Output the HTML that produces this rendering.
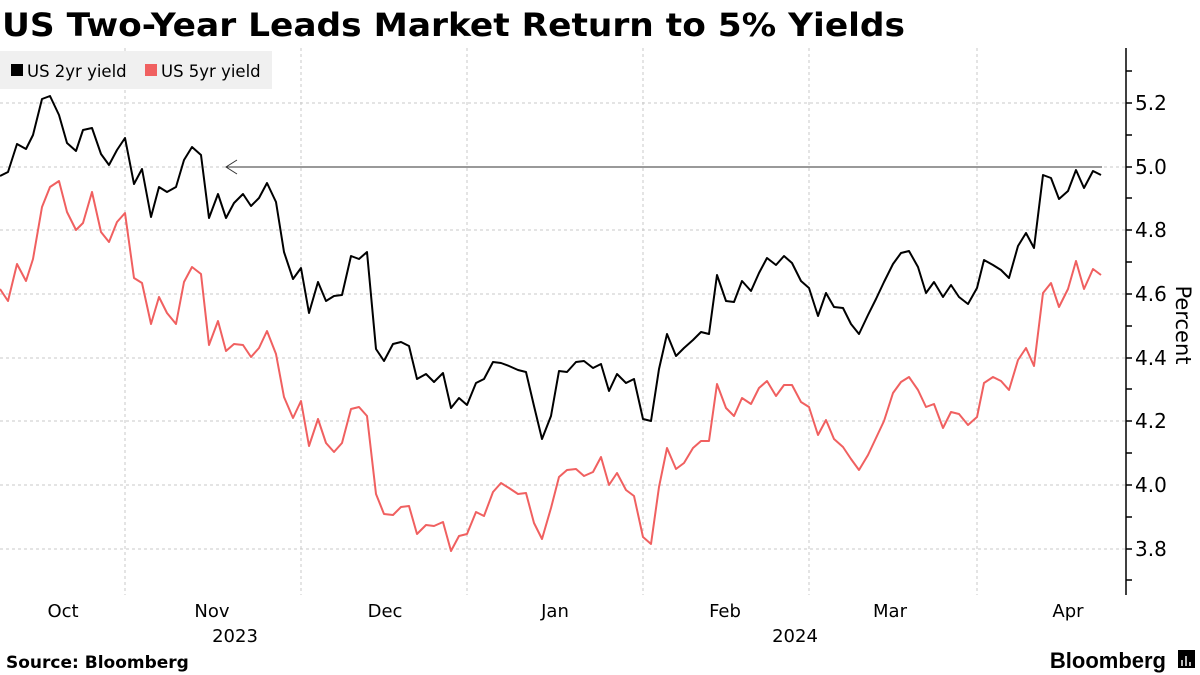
<!DOCTYPE html>
<html><head><meta charset="utf-8"><style>
html,body{margin:0;padding:0;background:#fff;}
svg{display:block;font-family:"DejaVu Sans","Liberation Sans",sans-serif;}
</style></head><body>
<svg width="1200" height="675" viewBox="0 0 1200 675" xmlns="http://www.w3.org/2000/svg">
<text x="2" y="36" font-size="32" font-weight="bold" fill="#000" textLength="903" lengthAdjust="spacingAndGlyphs">US Two-Year Leads Market Return to 5% Yields</text>
<g stroke="#c8c8c8" stroke-width="1" stroke-dasharray="3,3">
<line x1="0" x2="1126" y1="103" y2="103"/><line x1="0" x2="1126" y1="167" y2="167"/><line x1="0" x2="1126" y1="230" y2="230"/><line x1="0" x2="1126" y1="294" y2="294"/><line x1="0" x2="1126" y1="358" y2="358"/><line x1="0" x2="1126" y1="421" y2="421"/><line x1="0" x2="1126" y1="485" y2="485"/><line x1="0" x2="1126" y1="549" y2="549"/>
<line x1="125" x2="125" y1="48" y2="595"/><line x1="301" x2="301" y1="48" y2="595"/><line x1="467" x2="467" y1="48" y2="595"/><line x1="643" x2="643" y1="48" y2="595"/><line x1="809" x2="809" y1="48" y2="595"/><line x1="977" x2="977" y1="48" y2="595"/>
</g>
<rect x="0" y="51" width="272" height="38" fill="#f0f0f0"/>
<rect x="11" y="64" width="12" height="12" fill="#000"/>
<text x="27" y="77" font-size="16.5" fill="#000">US 2yr yield</text>
<rect x="145" y="64" width="12" height="12" fill="#f06060"/>
<text x="161" y="77" font-size="16.5" fill="#000">US 5yr yield</text>
<line x1="226" y1="167" x2="1102" y2="167" stroke="#333" stroke-width="1"/>
<polyline points="237,160 226,167 237,174" fill="none" stroke="#333" stroke-width="1"/>
<polyline fill="none" stroke="#f06060" stroke-width="2" stroke-linejoin="round" points="0,289 8,301 17,264 26,281 33,259 42,207 50,187 59,181 67,212 76,230 83,223 92,192 101,232 109,242 117,222 125,213 134,278 142,283 151,324 159,297 167,313 176,324 184,282 192,267 201,274 209,345 218,321 226,351 234,344 243,345 251,357 259,348 267,331 276,354 284,397 293,418 301,401 309,446 318,419 326,443 334,452 342,443 351,409 359,407 367,416 376,494 384,514 393,515 401,507 409,506 417,534 426,525 434,526 443,522 451,551 459,536 467,534 476,512 484,516 493,492 501,483 509,488 518,494 526,493 534,523 542,539 551,508 559,477 567,470 576,469 584,476 593,472 601,457 609,485 617,473 626,490 634,496 643,537 651,544 659,487 667,448 676,469 684,463 693,448 701,441 709,441 717,384 726,408 734,416 742,398 751,404 759,388 767,381 776,396 784,385 792,385 801,402 809,407 818,435 826,420 834,439 843,447 851,459 859,470 868,455 876,438 884,421 893,393 901,382 909,377 918,390 926,407 934,404 943,428 951,412 959,414 968,425 977,417 984,383 993,377 1001,381 1009,390 1018,360 1026,348 1034,366 1043,293 1051,283 1059,307 1068,289 1076,261 1084,289 1093,269 1101,275"/>
<polyline fill="none" stroke="#000" stroke-width="2" stroke-linejoin="round" points="0,176 8,172 17,144 26,149 33,135 42,99 50,96 59,115 67,143 76,151 83,130 92,128 101,154 109,165 117,150 125,138 134,184 142,169 151,217 159,187 167,192 176,187 184,160 192,147 201,155 209,218 218,194 226,218 234,203 243,194 251,206 259,198 267,183 276,202 284,252 293,279 301,268 309,313 318,282 326,301 334,296 342,295 351,256 359,259 367,252 376,349 384,361 393,344 401,342 409,346 417,379 426,374 434,382 443,373 451,408 459,398 467,405 476,383 484,379 493,362 501,363 509,366 518,370 526,372 534,406 542,439 551,416 559,371 567,372 576,362 584,361 593,368 601,364 609,391 617,374 626,383 634,379 643,419 651,421 659,369 667,334 676,356 684,348 693,340 701,332 709,334 717,275 726,301 734,302 742,281 751,291 759,273 767,258 776,265 784,256 792,263 801,281 809,288 818,316 826,293 834,307 843,308 851,324 859,334 868,315 876,299 884,282 893,264 901,253 909,251 918,267 926,293 934,282 943,297 951,285 959,297 968,304 977,288 984,260 993,265 1001,270 1009,278 1018,246 1026,233 1034,248 1043,175 1051,178 1059,199 1068,191 1076,170 1084,188 1093,171 1101,175"/>
<line x1="1126" y1="48" x2="1126" y2="595" stroke="#000" stroke-width="1.5"/>
<g stroke="#000" stroke-width="1.5">
<line x1="1126" x2="1132" y1="71" y2="71"/><line x1="1126" x2="1132" y1="103" y2="103"/><line x1="1126" x2="1132" y1="135" y2="135"/><line x1="1126" x2="1132" y1="167" y2="167"/><line x1="1126" x2="1132" y1="198" y2="198"/><line x1="1126" x2="1132" y1="230" y2="230"/><line x1="1126" x2="1132" y1="262" y2="262"/><line x1="1126" x2="1132" y1="294" y2="294"/><line x1="1126" x2="1132" y1="326" y2="326"/><line x1="1126" x2="1132" y1="358" y2="358"/><line x1="1126" x2="1132" y1="389" y2="389"/><line x1="1126" x2="1132" y1="421" y2="421"/><line x1="1126" x2="1132" y1="453" y2="453"/><line x1="1126" x2="1132" y1="485" y2="485"/><line x1="1126" x2="1132" y1="517" y2="517"/><line x1="1126" x2="1132" y1="549" y2="549"/><line x1="1126" x2="1132" y1="580" y2="580"/>
</g>
<g font-size="20" fill="#000">
<text x="1135" y="110">5.2</text><text x="1135" y="174">5.0</text><text x="1135" y="237">4.8</text><text x="1135" y="301">4.6</text><text x="1135" y="365">4.4</text><text x="1135" y="428">4.2</text><text x="1135" y="492">4.0</text><text x="1135" y="556">3.8</text>
</g>
<text transform="translate(1176,325) rotate(90)" font-size="21" text-anchor="middle" fill="#000">Percent</text>
<g font-size="18" fill="#000" text-anchor="middle">
<text x="63" y="617">Oct</text><text x="212" y="617">Nov</text><text x="385" y="617">Dec</text><text x="555" y="617">Jan</text><text x="725" y="617">Feb</text><text x="890" y="617">Mar</text><text x="1068" y="617">Apr</text>
<text x="235" y="642">2023</text><text x="795" y="642">2024</text>
</g>
<text x="6" y="668" font-size="17" font-weight="bold" fill="#000">Source: Bloomberg</text>
<text x="1166" y="668" font-size="22" font-weight="bold" fill="#000" text-anchor="end" font-family="Liberation Sans, sans-serif">Bloomberg</text>
<rect x="1178" y="650" width="17" height="18" fill="#000"/>
<g stroke="#fff" stroke-width="1.5"><line x1="1182" y1="666" x2="1182" y2="660"/><line x1="1186" y1="666" x2="1186" y2="656"/><line x1="1190" y1="666" x2="1190" y2="662"/></g>
</svg>
</body></html>
